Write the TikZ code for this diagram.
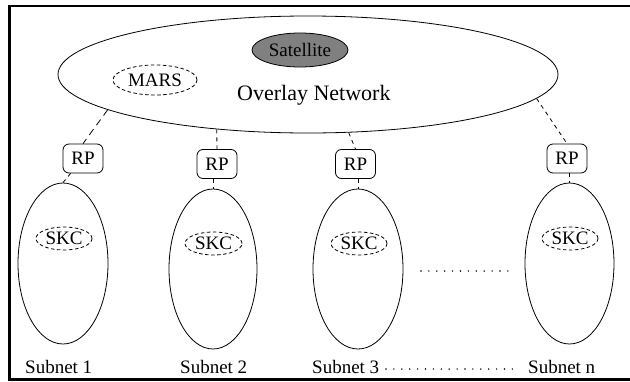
\documentclass[tikz,border=0pt]{standalone}
\usepackage{fontspec}
\setmainfont{Liberation Serif}
\usetikzlibrary{shapes.geometric}
\begin{document}
\begin{tikzpicture}[x=1pt,y=-1pt,
  txt/.style={font=\fontsize{19}{22}\selectfont, inner sep=0pt},
  bigtxt/.style={font=\fontsize{22}{26}\selectfont, inner sep=0pt},
  oval/.style={ellipse, draw, line width=0.8pt, inner sep=0pt},
  dashoval/.style={ellipse, draw, line width=0.8pt, inner sep=0pt, dash pattern=on 3.5pt off 2.5pt},
  rpbox/.style={draw, line width=0.8pt, rounded corners=6pt, minimum width=40pt, minimum height=29pt, inner sep=0pt, font=\fontsize{19}{22}\selectfont},
  link/.style={line width=0.8pt, dash pattern=on 4pt off 4pt},
  longlink/.style={line width=0.8pt, dash pattern=on 7pt off 5pt},
  dots/.style={line width=1.6pt, line cap=round, dash pattern=on 0pt off 7.9pt}
]
\useasboundingbox (0,0) rectangle (630,381);
\fill[white] (0,0) rectangle (630,381);
% frame
\draw[line width=2.2pt] (640,6) -- (9.5,6) -- (9.5,379.5) -- (640,379.5);

% overlay network
\node[oval, minimum width=500pt, minimum height=117pt] (net) at (308,74.5) {};
\node[oval, fill=black!50, minimum width=96pt, minimum height=34pt, txt] (sat) at (300,50) {Satellite};
\node[dashoval, minimum width=84pt, minimum height=30pt, txt] (mars) at (155,80) {MARS};
\node[bigtxt, anchor=base west] (ovl) at (237,100) {Overlay Network};

% RPs
\node[rpbox] (rp1) at (83,158.5) {RP};
\node[rpbox] (rp2) at (217,164) {RP};
\node[rpbox] (rp3) at (355.5,164) {RP};
\node[rpbox] (rp4) at (567,158.5) {RP};

% subnets
\node[oval, minimum width=90pt, minimum height=161pt] (sub1) at (63,263.5) {};
\node[oval, minimum width=88pt, minimum height=160pt] (sub2) at (213,269) {};
\node[oval, minimum width=90pt, minimum height=160pt] (sub3) at (358,269) {};
\node[oval, minimum width=89pt, minimum height=161pt] (subn) at (569.5,263.5) {};

% SKCs
\node[dashoval, minimum width=56pt, minimum height=23pt, txt] (skc1) at (64,238.5) {SKC};
\node[dashoval, minimum width=57pt, minimum height=23pt, txt] (skc2) at (213.5,243.5) {SKC};
\node[dashoval, minimum width=56pt, minimum height=23pt, txt] (skc3) at (359,243.5) {SKC};
\node[dashoval, minimum width=56pt, minimum height=23pt, txt] (skcn) at (570,238.5) {SKC};

% connectors overlay -> RP
\draw[longlink] (net.190.9) -- (rp1.north);
\draw[link] (net.211.5) -- (rp2.north);
\draw[link] (net.305.8) -- (rp3.north);
\draw[link] (net.354.1) -- (rp4.north);

% RP -> subnet
\draw[link] (rp1) -- (sub1.north);
\draw[link] (rp2.south -| sub2.north) -- (sub2.north);
\draw[link] (rp3.south -| sub3.north) -- (sub3.north);
\draw[link] (rp4.south -| subn.north) -- (subn.north);

% labels
\node[txt, anchor=base west] (l1) at (25,373) {Subnet 1};
\node[txt, anchor=base west] (l2) at (180,373) {Subnet 2};
\node[txt, anchor=base west] (l3) at (312,373) {Subnet 3};
\node[txt, anchor=base west] (ln) at (528,373) {Subnet n};

% dotted fillers
\coordinate (m1) at (421,271);
\coordinate (m2) at (513,271);
\draw[dots] (m1) -- (m2);
\coordinate (b1) at (386,369);
\coordinate (b2) at (515,369);
\draw[dots] (b1) -- (b2);
\end{tikzpicture}
\end{document}
